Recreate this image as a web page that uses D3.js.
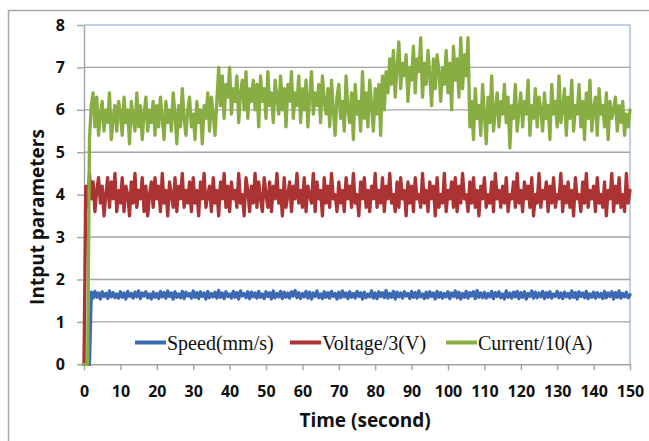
<!DOCTYPE html>
<html><head><meta charset="utf-8">
<script src="https://cdn.jsdelivr.net/npm/d3@7"></script>
<style>body{margin:0;background:#fff}</style>
</head><body><svg id="c" width="649" height="441"></svg>
<script>
// sample interval (seconds) between consecutive readings
const sampleStep = 0.5;

const speed = [0,0,0,0,
1.70,1.56,1.72,1.58,1.68,1.54,1.71,1.60,1.67,1.55,1.73,1.59,1.69,1.57,1.66,1.56,
1.71,1.58,1.68,1.54,1.72,1.60,1.67,1.56,1.70,1.59,1.73,1.55,1.68,1.61,1.71,1.57,1.66,1.54,1.70,1.58,
1.67,1.55,1.72,1.59,1.69,1.56,1.73,1.60,1.68,1.54,1.71,1.58,1.66,1.57,1.72,1.55,1.70,1.61,1.67,1.56,
1.73,1.58,1.69,1.55,1.71,1.60,1.68,1.54,1.72,1.57,1.67,1.59,1.70,1.56,1.74,1.58,1.68,1.55,1.71,1.60,
1.66,1.56,1.72,1.58,1.69,1.54,1.73,1.61,1.67,1.57,1.71,1.55,1.70,1.59,1.68,1.56,1.72,1.58,1.66,1.55,
1.71,1.60,1.69,1.54,1.73,1.57,1.67,1.59,1.72,1.55,1.70,1.58,1.68,1.56,1.71,1.61,1.74,1.57,1.69,1.55,
1.67,1.59,1.72,1.56,1.70,1.54,1.68,1.60,1.73,1.57,1.66,1.55,1.71,1.58,1.69,1.56,1.72,1.60,1.67,1.54,
1.70,1.57,1.73,1.59,1.68,1.55,1.71,1.58,1.67,1.56,1.72,1.60,1.69,1.54,1.70,1.57,1.66,1.59,1.73,1.56,
1.68,1.55,1.71,1.60,1.69,1.57,1.74,1.56,1.67,1.58,1.72,1.54,1.70,1.59,1.68,1.56,1.71,1.61,1.67,1.55,
1.72,1.58,1.69,1.56,1.73,1.59,1.66,1.55,1.70,1.57,1.71,1.60,1.68,1.54,1.72,1.58,1.69,1.56,1.67,1.59,
1.71,1.55,1.68,1.60,1.73,1.57,1.70,1.54,1.67,1.58,1.72,1.56,1.69,1.61,1.71,1.55,1.74,1.58,1.68,1.57,
1.70,1.56,1.67,1.59,1.72,1.55,1.69,1.60,1.71,1.57,1.66,1.54,1.73,1.58,1.68,1.56,1.70,1.59,1.72,1.55,
1.69,1.58,1.71,1.54,1.67,1.60,1.73,1.56,1.70,1.57,1.68,1.59,1.72,1.55,1.69,1.58,1.71,1.56,1.66,1.60,
1.72,1.57,1.68,1.55,1.70,1.59,1.67,1.56,1.73,1.58,1.69,1.54,1.71,1.60,1.68,1.57,1.72,1.55,1.66,1.58,
1.70,1.56,1.69,1.59,1.67,1.55,1.72,1.57,1.68,1.60,1.71,1.54,1.69,1.58,1.73,1.56,1.67,1.59,1.70,1.57,
1.64];

const voltage = [0,
4.2,3.7,4.5,3.9,4.3,3.6,4.1,4.4,3.8,4.2,3.5,4.0,4.4,3.7,4.3,3.9,4.5,3.6,4.1,
3.8,4.4,3.6,4.2,4.0,3.5,4.3,3.8,4.5,3.7,4.1,3.9,4.4,3.6,4.2,3.5,4.0,4.3,3.7,4.4,
3.9,4.2,3.6,4.5,3.8,4.1,3.5,4.3,4.0,3.7,4.4,3.6,4.2,3.9,4.5,3.7,4.1,3.8,4.3,3.6,
4.4,3.8,4.1,3.5,4.3,3.9,4.5,3.7,4.0,4.2,3.6,4.4,3.8,4.1,3.5,4.3,3.9,4.5,3.7,4.2,
3.6,4.3,3.9,4.1,3.7,4.5,3.8,4.0,3.5,4.4,4.1,3.6,4.2,3.8,4.5,3.7,4.3,3.9,3.6,4.4,
4.0,3.7,4.3,3.6,4.2,3.9,4.5,3.8,4.1,3.5,4.4,3.7,4.0,4.3,3.6,4.2,3.9,4.5,3.8,4.1,
3.7,4.4,3.6,4.2,4.0,3.8,4.5,3.6,4.3,3.9,4.1,3.5,4.4,3.8,4.2,3.7,4.5,3.9,4.0,3.6,
4.3,3.8,4.1,3.6,4.4,3.9,4.2,3.7,4.5,3.8,4.0,3.5,4.3,3.9,4.4,3.7,4.1,3.6,4.2,3.9,
4.5,3.7,4.1,3.8,4.4,3.6,4.2,3.9,4.5,3.8,4.0,3.6,4.3,3.7,4.4,3.9,4.1,3.5,4.3,3.8,
4.2,3.6,4.4,3.9,4.0,3.7,4.5,3.8,4.1,3.6,4.3,3.9,4.2,3.5,4.4,3.7,4.0,3.8,4.5,3.6,
4.1,3.9,4.3,3.7,4.4,3.6,4.2,3.8,4.5,3.9,4.0,3.6,4.3,3.8,4.4,3.7,4.1,3.5,4.2,3.9,
4.4,3.7,4.0,3.8,4.3,3.6,4.5,3.9,4.1,3.7,4.2,3.8,4.4,3.6,4.0,3.9,4.3,3.7,4.5,3.8,
4.1,3.6,4.3,3.9,4.2,3.7,4.4,3.5,4.0,3.8,4.5,3.7,4.1,3.9,4.3,3.6,4.2,3.8,4.4,3.7,
4.0,3.9,4.5,3.6,4.2,3.8,4.3,3.7,4.1,3.5,4.4,3.9,4.0,3.6,4.3,3.8,4.5,3.7,4.1,3.9,
4.2,3.6,4.4,3.8,4.0,3.7,4.3,3.5,4.1,3.9,4.5,3.6,4.2,3.8,4.4,3.7,4.0,3.6,4.5,3.8,
4.1];

const current = [0,0,0,
5.3,6.1,6.4,5.6,6.3,5.4,5.9,6.2,5.5,6.0,5.7,6.4,5.3,5.8,6.1,5.5,6.2,
5.9,5.4,6.3,5.7,6.0,5.2,6.2,5.8,5.5,6.4,5.6,6.1,5.3,5.9,6.3,5.5,6.0,5.7,6.2,5.4,
6.1,5.6,6.3,5.8,5.3,6.2,5.7,6.0,5.5,6.4,5.9,5.2,6.1,5.6,6.5,5.8,5.4,6.0,6.3,5.6,
5.9,5.3,6.2,5.7,6.0,5.2,6.1,5.8,6.4,5.5,6.3,5.9,5.4,6.2,
7.0,6.1,6.8,5.8,6.6,6.3,7.0,5.9,6.5,6.2,6.8,5.7,6.4,6.7,6.0,6.9,5.8,6.5,6.2,6.7,
6.0,6.6,5.6,6.8,6.2,6.5,5.8,6.9,6.1,6.4,5.7,6.7,6.3,5.9,6.8,6.0,6.5,5.6,6.6,6.2,
6.9,5.8,6.4,6.1,6.8,5.7,6.5,6.0,6.7,5.6,6.3,6.9,5.9,6.4,6.1,6.6,5.7,6.8,6.2,5.9,
6.5,5.6,6.7,6.0,5.4,6.3,6.6,5.8,6.2,5.5,6.8,6.0,5.7,6.4,5.3,6.6,5.9,6.2,5.5,6.9,
5.8,6.4,5.6,6.7,6.1,5.5,6.5,5.9,6.6,5.4,6.8,6.0,6.9,
6.4,7.2,6.6,7.4,6.3,7.0,7.6,6.5,7.1,6.8,7.3,6.2,7.0,6.7,7.5,6.4,7.2,6.9,7.7,6.3,
7.1,6.6,7.4,6.8,6.1,7.2,6.5,7.3,6.9,6.2,7.0,6.6,7.4,6.4,7.1,6.0,7.5,6.7,7.2,6.3,
7.7,6.5,7.3,6.8,7.7,
5.6,6.2,5.3,6.5,5.8,6.1,5.4,6.6,5.9,5.2,6.3,5.7,6.8,5.5,6.0,6.4,5.6,6.2,5.9,6.6,
5.7,6.3,5.1,6.1,5.8,6.6,5.5,6.0,6.4,5.6,6.2,5.9,6.7,5.4,6.1,5.8,6.5,5.6,6.3,6.0,
5.5,6.4,5.8,6.1,5.3,6.6,5.9,6.2,5.6,6.8,5.7,6.0,6.5,5.4,6.3,5.8,6.7,5.5,6.1,5.9,
6.6,5.6,6.2,5.3,6.4,5.8,6.7,5.5,6.0,6.3,5.4,6.5,5.9,6.1,5.6,6.4,5.3,6.2,5.8,6.0,
6.3,5.5,6.1,5.7,6.2,5.4,5.9,5.6,6.0];

const xTicks = [0,10,20,30,40,50,60,70,80,90,100,110,120,130,140,150];
const yTicks = [0,1,2,3,4,5,6,7,8];
const seriesNames = ["Speed(mm/s)","Voltage/3(V)","Current/10(A)"];
const xTitle = "Time (second)";
const yTitle = "Intput parameters";

const colors = ["#3c69b4","#ab3334","#87ad43"];
const svg = d3.select("#c");
const x = d3.scaleLinear().domain([0,150]).range([84,630]);
const y = d3.scaleLinear().domain([0,8]).range([364.3,25]);
const axisFont = "'Open Sans', sans-serif";

// outer chart border
svg.append("rect").attr("x",8.5).attr("y",10.5).attr("width",800).attr("height",600)
  .attr("fill","none").attr("stroke","#a6a6a6").attr("stroke-width",1.5);

// gridlines
svg.append("g").selectAll("line").data(yTicks.filter(v=>v>0 && v<8)).join("line")
  .attr("x1",x(0)).attr("x2",x(150)).attr("y1",d=>y(d)).attr("y2",d=>y(d))
  .attr("stroke","#a3a3a3").attr("stroke-width",1.4);

// plot-area border (top, right)
svg.append("path").attr("d",`M${x(0)},${y(8)}H${x(150)}V${y(0)}`)
  .attr("fill","none").attr("stroke","#7d9fd3").attr("stroke-width",1);

// axes
const yAxis = svg.append("g").attr("transform",`translate(${x(0)},0)`)
  .call(d3.axisLeft(y).tickValues(yTicks).tickSize(7).tickSizeOuter(0).tickPadding(12));
const xAxis = svg.append("g").attr("transform",`translate(0,${y(0)})`)
  .call(d3.axisBottom(x).tickValues(xTicks).tickSize(6).tickSizeOuter(0).tickPadding(15));
[yAxis,xAxis].forEach(g=>{
  g.selectAll("path,line").attr("stroke","#a3a3a3").attr("stroke-width",1.4);
  g.selectAll("text").attr("font-family",axisFont).attr("font-weight","bold")
    .attr("font-size",16).attr("fill","#111");
});

// series
const series = [speed, voltage, current];
const line = d3.line().x((d,i)=>x(i*sampleStep)).y(d=>y(d));
series.forEach((s,k)=>{
  svg.append("path").datum(s).attr("d",line).attr("fill","none")
    .attr("stroke",colors[k]).attr("stroke-width",3.3)
    .attr("stroke-linejoin","round").attr("stroke-linecap","round");
});

// legend
const legendX = [135,290,446];
seriesNames.forEach((n,k)=>{
  svg.append("line").attr("x1",legendX[k]).attr("x2",legendX[k]+31)
    .attr("y1",342.5).attr("y2",342.5).attr("stroke",colors[k]).attr("stroke-width",4);
  svg.append("text").attr("x",legendX[k]+32).attr("y",349.5).text(n)
    .attr("font-family","'Liberation Serif', 'Times New Roman', serif")
    .attr("font-size",20).attr("fill","#111");
});

// axis titles
svg.append("text").attr("x",365).attr("y",427).attr("text-anchor","middle")
  .attr("font-family",axisFont).attr("font-weight","bold").attr("font-size",19)
  .attr("fill","#111").text(xTitle);
svg.append("text").attr("transform","translate(44,217) rotate(-90)").attr("text-anchor","middle")
  .attr("font-family",axisFont).attr("font-weight","bold").attr("font-size",19)
  .attr("fill","#111").text(yTitle);
</script></body></html>
